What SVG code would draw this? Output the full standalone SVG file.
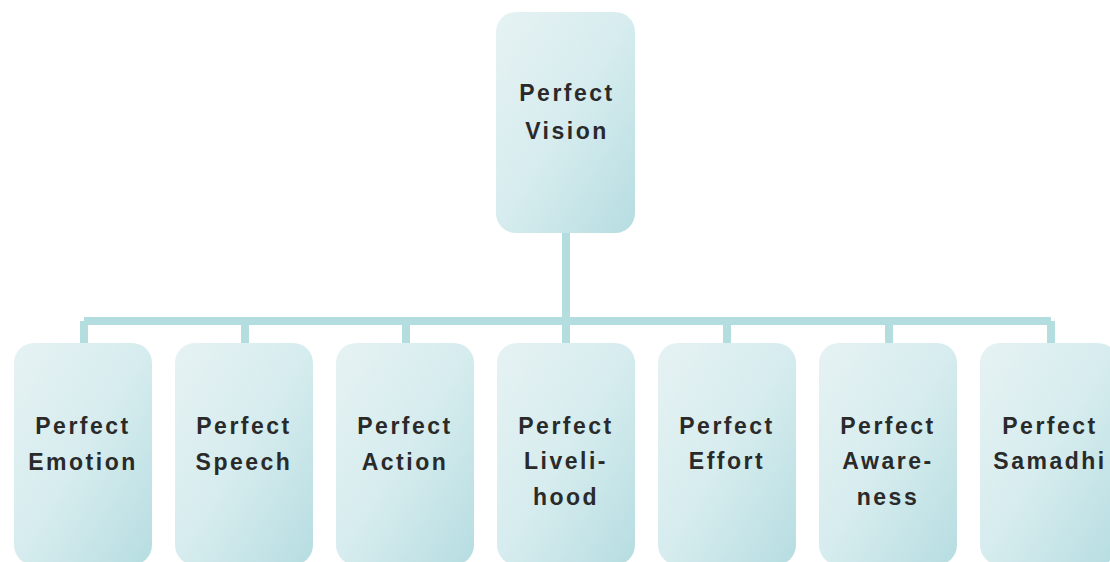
<svg xmlns="http://www.w3.org/2000/svg" width="1110" height="562" viewBox="0 0 1110 562">
<defs>
<linearGradient id="g" x1="0" y1="0" x2="1" y2="1">
<stop offset="0" stop-color="#e6f2f3"/>
<stop offset="0.5" stop-color="#d6ecee"/>
<stop offset="1" stop-color="#b6dde1"/>
</linearGradient>
</defs>
<style>
.box{fill:url(#g);}
.t{font-family:"Liberation Sans",Arial,sans-serif;font-size:23px;font-weight:bold;fill:#2a2a2a;text-anchor:middle;letter-spacing:2.5px;}
.c{stroke:#b4dde0;stroke-width:8;fill:none;}
</style>
<g id="connectors">
<path class="c" d="M566 232V321M84 321H1051M84 321V343M245 321V343M406 321V343M566 321V343M727 321V343M889 321V343M1051 321V343"/>
</g>
<g id="vision"><rect class="box" x="496" y="12" width="139" height="221" rx="20"/><text class="t" x="567" y="101">Perfect</text><text class="t" x="567" y="139">Vision</text></g>
<g id="emotion"><rect class="box" x="14" y="343" width="138" height="222" rx="20"/><text class="t" x="83" y="434">Perfect</text><text class="t" x="83" y="470">Emotion</text></g>
<g id="speech"><rect class="box" x="175" y="343" width="138" height="222" rx="20"/><text class="t" x="244" y="434">Perfect</text><text class="t" x="244" y="470">Speech</text></g>
<g id="action"><rect class="box" x="336" y="343" width="138" height="222" rx="20"/><text class="t" x="405" y="434">Perfect</text><text class="t" x="405" y="470">Action</text></g>
<g id="livelihood"><rect class="box" x="497" y="343" width="138" height="222" rx="20"/><text class="t" x="566" y="434">Perfect</text><text class="t" x="566" y="469">Liveli-</text><text class="t" x="566" y="505">hood</text></g>
<g id="effort"><rect class="box" x="658" y="343" width="138" height="222" rx="20"/><text class="t" x="727" y="434">Perfect</text><text class="t" x="727" y="469">Effort</text></g>
<g id="awareness"><rect class="box" x="819" y="343" width="138" height="222" rx="20"/><text class="t" x="888" y="434">Perfect</text><text class="t" x="888" y="469">Aware-</text><text class="t" x="888" y="505">ness</text></g>
<g id="samadhi"><rect class="box" x="980" y="343" width="138" height="222" rx="20"/><text class="t" x="1050" y="434">Perfect</text><text class="t" x="1050" y="469">Samadhi</text></g>
</svg>
